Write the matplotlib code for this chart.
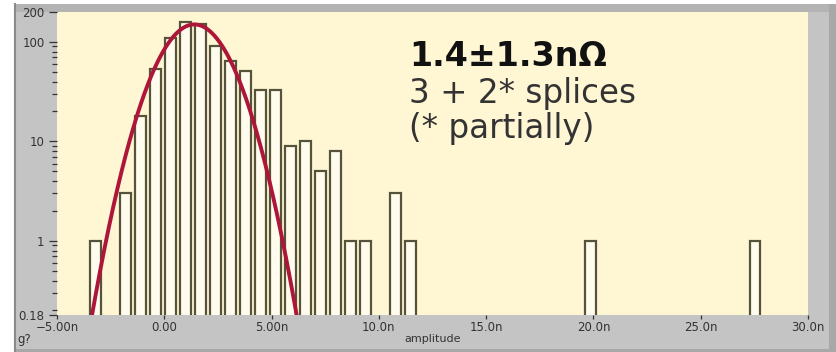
import numpy as np
import matplotlib
matplotlib.use("Agg")
import matplotlib.pyplot as plt
from matplotlib.patches import Rectangle
from matplotlib.lines import Line2D

# Histogram of splice resistance amplitudes (bin width 0.7 n)
first_center = -3.22
bin_width = 0.699
counts = [1, 0, 3, 18, 53, 110, 159, 150, 92, 64, 51, 33, 33, 9, 10, 5, 8,
          1, 1, 0, 3, 1, 0, 0, 0, 0, 0, 0, 0, 0, 0, 0, 0, 1, 0, 0, 0, 0, 0,
          0, 0, 0, 0, 0, 1]

# Gaussian fit
fit_mean = 1.4
fit_sigma = 1.3
fit_amp = 150.0

x_ticks = [-5, 0, 5, 10, 15, 20, 25, 30]
x_tick_labels = ["\u22125.00n", "0.00", "5.00n", "10.0n", "15.0n", "20.0n", "25.0n", "30.0n"]
y_ticks = [0.18, 1, 10, 100, 200]
y_tick_labels = ["0.18", "1", "10", "100", "200"]

W, H = 836, 352
fig = plt.figure(figsize=(W / 100, H / 100), dpi=100, facecolor="white")


def fx(px):
    return px / W


def fy(py):
    return 1 - py / H


# panel background
fig.add_artist(Rectangle((fx(15), 0), fx(821), 348 / H, facecolor="#c4c4c4",
                         edgecolor="none", zorder=-5))
fig.add_artist(Rectangle((fx(15), fy(12)), fx(821), 8 / H, facecolor="#b3b3b3",
                         edgecolor="none", zorder=-4))
fig.add_artist(Rectangle((fx(829), 0), fx(7), 348 / H, facecolor="#a8a8a8",
                         edgecolor="none", zorder=-4))
fig.add_artist(Rectangle((fx(15), 0), fx(821), 3 / H, facecolor="#a8a8a8",
                         edgecolor="none", zorder=-4))

ax = fig.add_axes([fx(57), fy(315), fx(751), 303 / H])
ax.set_facecolor("#fff6d4")
for s in ax.spines.values():
    s.set_visible(False)

centers = [first_center + bin_width * i for i in range(len(counts))]
bx = [c for c, n in zip(centers, counts) if n > 0]
bh = [n for n in counts if n > 0]
ax.bar(bx, [h - 0.01 for h in bh], bottom=0.01, width=0.5, color="#fffcee",
       edgecolor="#55533a", linewidth=1.6, zorder=2)

xs = np.linspace(-5, 30, 1500)
ys = fit_amp * np.exp(-(xs - fit_mean) ** 2 / (2 * fit_sigma ** 2))
ax.plot(xs, ys, color="#ad1639", lw=2.8, zorder=3, solid_capstyle="butt")

ax.set_yscale("log")
ax.set_xlim(-5, 30)
ax.set_ylim(0.18, 200)

ax.set_yticks(y_ticks)
ax.set_yticklabels(y_tick_labels)
minor = [m * d for d in (0.1, 1, 10) for m in range(2, 10) if m * d > 0.18]
ax.set_yticks(minor, minor=True)
ax.yaxis.set_minor_formatter(matplotlib.ticker.NullFormatter())
ax.set_xticks(x_ticks)
ax.set_xticklabels(x_tick_labels)

ax.tick_params(axis="y", which="major", direction="out", length=6, width=0.9,
               color="#333333", labelsize=8.5, labelcolor="#333333", pad=3)
ax.tick_params(axis="y", which="minor", direction="out", length=3.5, width=0.9,
               color="#333333")
ax.tick_params(axis="x", which="major", direction="out", length=3, width=0.9,
               color="#333333", labelsize=8.5, labelcolor="#333333", pad=1)
ax.set_xlabel("amplitude", fontsize=8, color="#333333", labelpad=0)

# annotation
txt_family = ["DejaVu Sans"]
fig.text(fx(409), fy(66), "1.4\u00b11.3n\u03a9", fontsize=24, fontweight="bold",
         family=txt_family, color="#111111", va="baseline")
fig.text(fx(409), fy(77), "3 + 2* splices\n(* partially)", fontsize=23.5,
         family=txt_family, color="#333333", va="top", linespacing=1.08)

fig.text(fx(17), fy(343), "g?", fontsize=8.5, color="#333333", va="baseline")

# left margin strip and border drawn over everything
fig.add_artist(Rectangle((0, 0), fx(14), 1, facecolor="white", edgecolor="none", zorder=10))
fig.add_artist(Line2D([fx(14.5), fx(14.5)], [fy(352), fy(4)], color="#8a8a8a", lw=1.5, zorder=11))

fig.savefig("out.png", dpi=100, facecolor=fig.get_facecolor())
